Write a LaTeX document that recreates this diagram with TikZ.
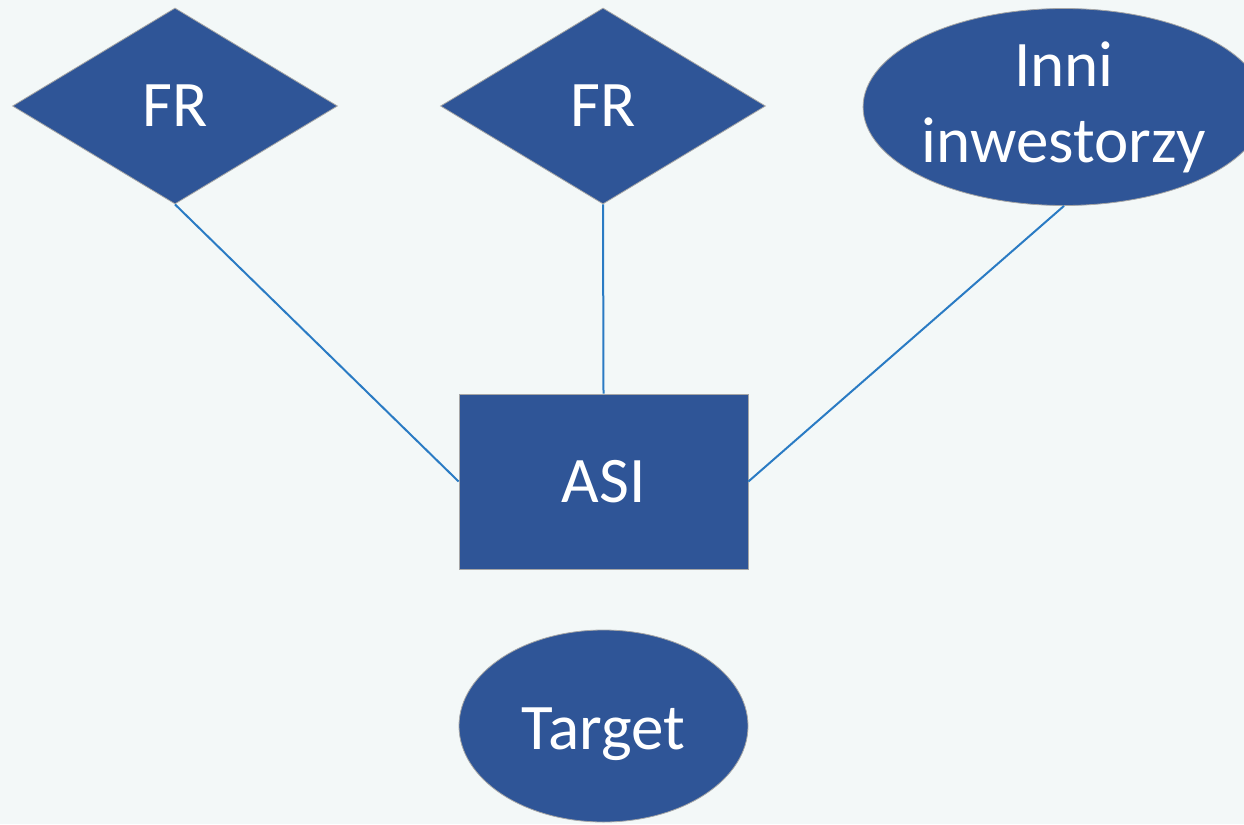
\documentclass[tikz,border=0pt]{standalone}
\usepackage{fontspec}
\setmainfont{Carlito}
\usetikzlibrary{shapes.geometric}
\definecolor{bgc}{HTML}{F3F8F8}
\definecolor{boxfill}{HTML}{2F5597}
\definecolor{boxedge}{HTML}{A6A6A6}
\definecolor{linkc}{HTML}{2A7BC4}
\tikzset{
  shapebase/.style={fill=boxfill, draw=boxedge, line width=0.8pt, text=white,
    font=\fontsize{65}{76}\selectfont, inner sep=0pt, align=center},
  fund/.style={shapebase, diamond, minimum width=325pt, minimum height=196pt},
  firm/.style={shapebase, rectangle, minimum width=289pt, minimum height=175pt},
  party/.style={shapebase, ellipse},
  link/.style={draw=linkc, line width=2pt}
}
\begin{document}
\begin{tikzpicture}[x=1pt, y=-1pt]
  \fill[bgc] (0,0) rectangle (1244,824);
  \useasboundingbox (0,0) rectangle (1244,824);
  \begin{scope}
    \clip (0,0) rectangle (1244,824);
    \node[fund] (fr1) at (175,106) {FR};
    \node[fund] (fr2) at (603,106) {FR};
    \node[party, minimum width=384pt, minimum height=197pt] (inni) at (1064,107) {Inni\\inwestorzy};
    \node[firm] (asi) at (603.5,481.5) {ASI};
    \node[party, minimum width=289pt, minimum height=192pt, text depth=0pt] (target) at (603.5,726) {\raisebox{-6pt}{Target}};
    \draw[link] (fr1.south) -- (asi.west);
    \draw[link] (fr2.south) -- (asi.north);
    \draw[link] (inni.south) -- (asi.east);
  \end{scope}
\end{tikzpicture}
\end{document}
